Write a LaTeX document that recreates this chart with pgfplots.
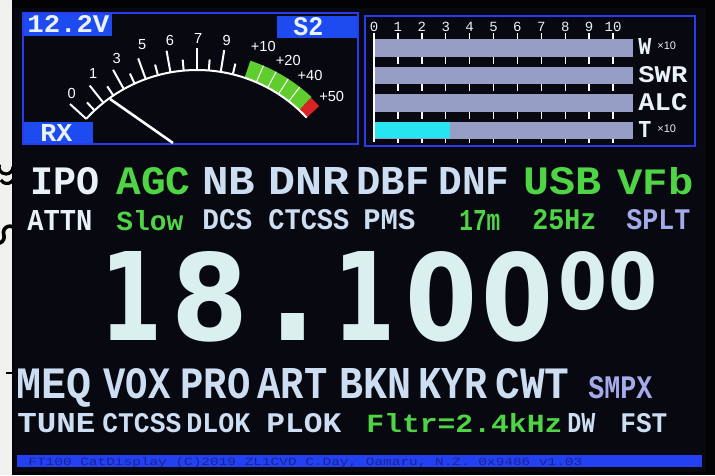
\documentclass[border=0pt]{standalone}
\usepackage{pgfplots}
\pgfplotsset{compat=1.18}
\usepackage{fontspec}
\setmainfont{Liberation Sans}
\newfontfamily\lcdfont{Liberation Mono}
\newfontfamily\digfont{DejaVu Sans}
\definecolor{bez}{RGB}{3,3,5}
\definecolor{scr}{RGB}{7,8,16}
\definecolor{pblue}{RGB}{40,60,235}
\definecolor{bblue}{RGB}{30,75,240}
\definecolor{lcdw}{RGB}{232,242,248}
\definecolor{lcdl}{RGB}{205,222,242}
\definecolor{lcdg}{RGB}{78,212,68}
\definecolor{lcdv}{RGB}{165,170,235}
\definecolor{bargray}{RGB}{150,158,198}
\definecolor{cyanb}{RGB}{40,228,238}
\definecolor{mgreen}{RGB}{95,205,45}
\definecolor{mred}{RGB}{215,35,35}
\definecolor{digit}{RGB}{218,240,238}
\definecolor{barb}{RGB}{35,65,240}
\definecolor{bart}{RGB}{25,35,150}
\definecolor{paper}{RGB}{240,240,238}
% rectangle in pixel units
\newcommand\R[5]{\addplot[fill=#5,draw=none,forget plot] coordinates {(#1,#2) (#3,#2) (#3,#4) (#1,#4)};}
% LCD text fitted to a pixel box: x1 x2 ytop ybase colour text
\newcommand\T[6]{\node[anchor=base west,inner sep=0pt,text=#5] at (axis cs:#1,#4) {\resizebox{\dimexpr(#2pt-#1pt)/2\relax}{\dimexpr(#4pt-#3pt)/2\relax}{\lcdfont\bfseries #6}};}
% big digit: xcenter, box width (pt), ytop, ybase, text
\newcommand\D[5]{\node[anchor=base,inner sep=0pt,text=digit] at (axis cs:#1,#4) {\resizebox{#2pt}{\dimexpr(#4pt-#3pt)/2\relax}{\digfont\bfseries #5}};}
\begin{document}
\begin{tikzpicture}
\begin{axis}[at={(0,0)},anchor=south west,scale only axis,width=357.5pt,height=237.5pt,
  xmin=0,xmax=715,ymin=0,ymax=475,y dir=reverse,axis lines=none,ticks=none,clip=false]
% paper margin and bezel
\R{0}{0}{12}{475}{paper}
\R{12}{0}{715}{475}{bez}
\R{14}{8}{706}{472}{scr}
% ---------- S-meter panel ----------
\R{23}{13}{112}{36}{bblue}
\R{277}{16}{358}{38}{bblue}
\R{23}{122}{93}{143}{bblue}
\draw[pblue,line width=1pt] (axis cs:23,13) rectangle (axis cs:358,144);
\T{27}{109}{16}{33}{lcdw}{12.2V}
\T{293}{323}{18}{36}{lcdw}{S2}
\T{40}{72}{125}{142}{lcdw}{RX}
\coordinate (C) at (axis cs:197,220);
\draw[white,line width=1.3pt] (axis cs:110,99) -- (axis cs:173,143);
% ---------- power / SWR / ALC panel ----------
\draw[pblue,line width=1pt] (axis cs:365,16) rectangle (axis cs:695,146);
\R{374}{39}{633}{57}{bargray}
\R{374}{67}{633}{84}{bargray}
\R{374}{94}{633}{112}{bargray}
\R{374}{122}{633}{139}{bargray}
% T reading 3.2 (scale 0..10, 0 -> px 374, 1 unit = 23.9 px)
\addplot[fill=cyanb,draw=none,forget plot] table[row sep=\\,x expr={374+23.9*\thisrowno{0}},y index=1]
  {0 122.5\\ 3.2 122.5\\ 3.2 138.5\\ 0 138.5\\};
\draw[white,line width=0.8pt] (axis cs:374,33) -- (axis cs:374,142);
\pgfplotsinvokeforeach{397.9,421.8,445.7,469.6,493.5,517.4,541.3,565.2,589.1,613}{
  \draw[white,line width=0.7pt] (axis cs:#1,33) -- (axis cs:#1,39)
     (axis cs:#1,57) -- (axis cs:#1,64) (axis cs:#1,84) -- (axis cs:#1,91)
     (axis cs:#1,112) -- (axis cs:#1,119) (axis cs:#1,139) -- (axis cs:#1,143);
}
\pgfplotsinvokeforeach{0,1,2,3,4,5,6,7,8,9,10}{
  \node[anchor=base,inner sep=0pt,text=lcdw,font=\lcdfont\fontsize{7}{7}\selectfont] at (axis cs:{374+23.9*#1},32) {#1};
}
\T{638}{651}{39}{55}{lcdw}{W}
\T{638}{687}{67}{83}{lcdw}{SWR}
\T{638}{687}{94}{111}{lcdw}{ALC}
\T{638}{651}{122}{138}{lcdw}{T}
\node[anchor=base west,inner sep=0pt,text=lcdw,font=\fontsize{5.5}{6}\selectfont] at (axis cs:657,50) {×10};
\node[anchor=base west,inner sep=0pt,text=lcdw,font=\fontsize{5.5}{6}\selectfont] at (axis cs:657,133) {×10};
% ---------- row 1 ----------
\T{30}{99}{168}{195}{lcdw}{IPO}
\T{116}{190}{168}{195}{lcdg}{AGC}
\T{202}{255}{168}{195}{lcdl}{NB}
\T{268}{349}{168}{195}{lcdl}{DNR}
\T{356}{429}{168}{195}{lcdl}{DBF}
\T{438}{509}{168}{195}{lcdl}{DNF}
\T{523}{601}{168}{195}{lcdg}{USB}
\T{617}{693}{168}{195}{lcdg}{VFb}
% ---------- row 2 ----------
\T{27}{92}{210}{230}{lcdw}{ATTN}
\T{116}{183}{210}{230}{lcdg}{Slow}
\T{202}{252}{210}{230}{lcdl}{DCS}
\T{268}{349}{210}{230}{lcdl}{CTCSS}
\T{363}{415}{210}{230}{lcdl}{PMS}
\T{459}{500}{210}{230}{lcdg}{17m}
\T{532}{596}{210}{230}{lcdg}{25Hz}
\T{626}{690}{210}{230}{lcdv}{SPLT}
% ---------- frequency ----------
\D{132}{31}{251}{340}{1}
\D{210}{38.5}{251}{340}{8}
\D{293}{24.5}{313}{340}{.}
\D{364}{31}{251}{340}{1}
\D{441}{36}{251}{340}{0}
\D{517}{36}{251}{340}{0}
\D{583}{24.5}{251}{309}{0}
\D{633}{24.5}{251}{309}{0}
% ---------- row 3 ----------
\T{16}{91}{368}{398}{lcdl}{MEQ}
\T{103}{170}{368}{398}{lcdl}{VOX}
\T{180}{250}{368}{398}{lcdl}{PRO}
\T{257}{327}{368}{398}{lcdl}{ART}
\T{339}{411}{368}{398}{lcdl}{BKN}
\T{418}{487}{368}{398}{lcdl}{KYR}
\T{495}{569}{368}{398}{lcdl}{CWT}
\T{588}{652}{376}{398}{lcdv}{SMPX}
% ---------- row 4 ----------
\T{17}{95}{413}{432}{lcdl}{TUNE}
\T{102}{181}{413}{432}{lcdl}{CTCSS}
\T{186}{250}{413}{432}{lcdl}{DLOK}
\T{266}{341}{413}{432}{lcdl}{PLOK}
\T{366}{562}{413}{432}{lcdg}{Fltr=2.4kHz}
\T{567}{595}{413}{432}{lcdl}{DW}
\T{620}{667}{413}{432}{lcdl}{FST}
% ---------- status bar ----------
\R{17}{455}{702}{467}{barb}
\node[anchor=base west,inner sep=0pt,text=bart] at (axis cs:28,465) {\resizebox{277pt}{4pt}{\lcdfont FT100 CatDisplay (C)2019 ZL1CVD C.Day, Oamaru, N.Z. 0x9486 v1.03}};
\end{axis}
% ---------- ink marks on the paper beside the screen (cut by the bezel) ----------
\begin{scope}
\clip (0,0) rectangle (6pt,237.5pt);
\draw[black,line width=1.6pt] (6.5pt,154pt) arc[start angle=0,end angle=-200,radius=3.5pt];
\draw[black,line width=1.6pt] (6.5pt,147.5pt) arc[start angle=-30,end angle=-150,radius=3.5pt];
\draw[black,line width=1.8pt] (6.5pt,124pt) arc[start angle=60,end angle=200,radius=3.2pt] arc[start angle=20,end angle=-110,radius=3.2pt];
\draw[black,line width=1.2pt] (3pt,51pt) -- (6pt,51pt);
\end{scope}
% ---------- S-meter scale (in the axis' pixel frame, 1 px = 0.5 pt) ----------
\fill[mgreen] (C) ++(71.5:75pt) arc[start angle=71.5,end angle=47,radius=75pt] -- ++(47:9pt) arc[start angle=47,end angle=71.5,radius=84pt] -- cycle;
\fill[mred] (C) ++(47:75pt) arc[start angle=47,end angle=43,radius=75pt] -- ++(43:8.5pt) arc[start angle=43,end angle=47,radius=83.5pt] -- cycle;
\foreach \a in {66.7,61.9,57.1,52.3}{\draw[white,line width=0.5pt] (C) ++(\a:75pt) -- ++(\a:9pt);}
\draw[white,line width=1pt] (C) ++(137.6:75pt) arc[start angle=137.6,end angle=43,radius=75pt];
\foreach \a in {137.6,128.6,119.2,110,100.2,90,80.9}{\draw[white,line width=1pt] (C) ++(\a:75pt) -- ++(\a:11pt);}
\foreach \a in {133.1,123.9,114.6,105.1,95.1,85.5,76.2}{\draw[white,line width=1pt] (C) ++(\a:75pt) -- ++(\a:5.5pt);}
\begin{scope}[every node/.style={inner sep=0pt,text=white,font=\fontsize{7.3}{8}\selectfont}]
\node at (35.85pt,190.85pt) {0};
\node at (46.65pt,200.85pt) {1};
\node at (58.35pt,208.35pt) {3};
\node at (71.15pt,215pt) {5};
\node at (85pt,217.5pt) {6};
\node at (99.15pt,218.35pt) {7};
\node at (113.35pt,217.5pt) {9};
\node at (131.65pt,214.15pt) {+10};
\node at (144.15pt,207.5pt) {+20};
\node at (155pt,200pt) {+40};
\node at (165.85pt,189.5pt) {+50};
\end{scope}
\end{tikzpicture}
\end{document}
